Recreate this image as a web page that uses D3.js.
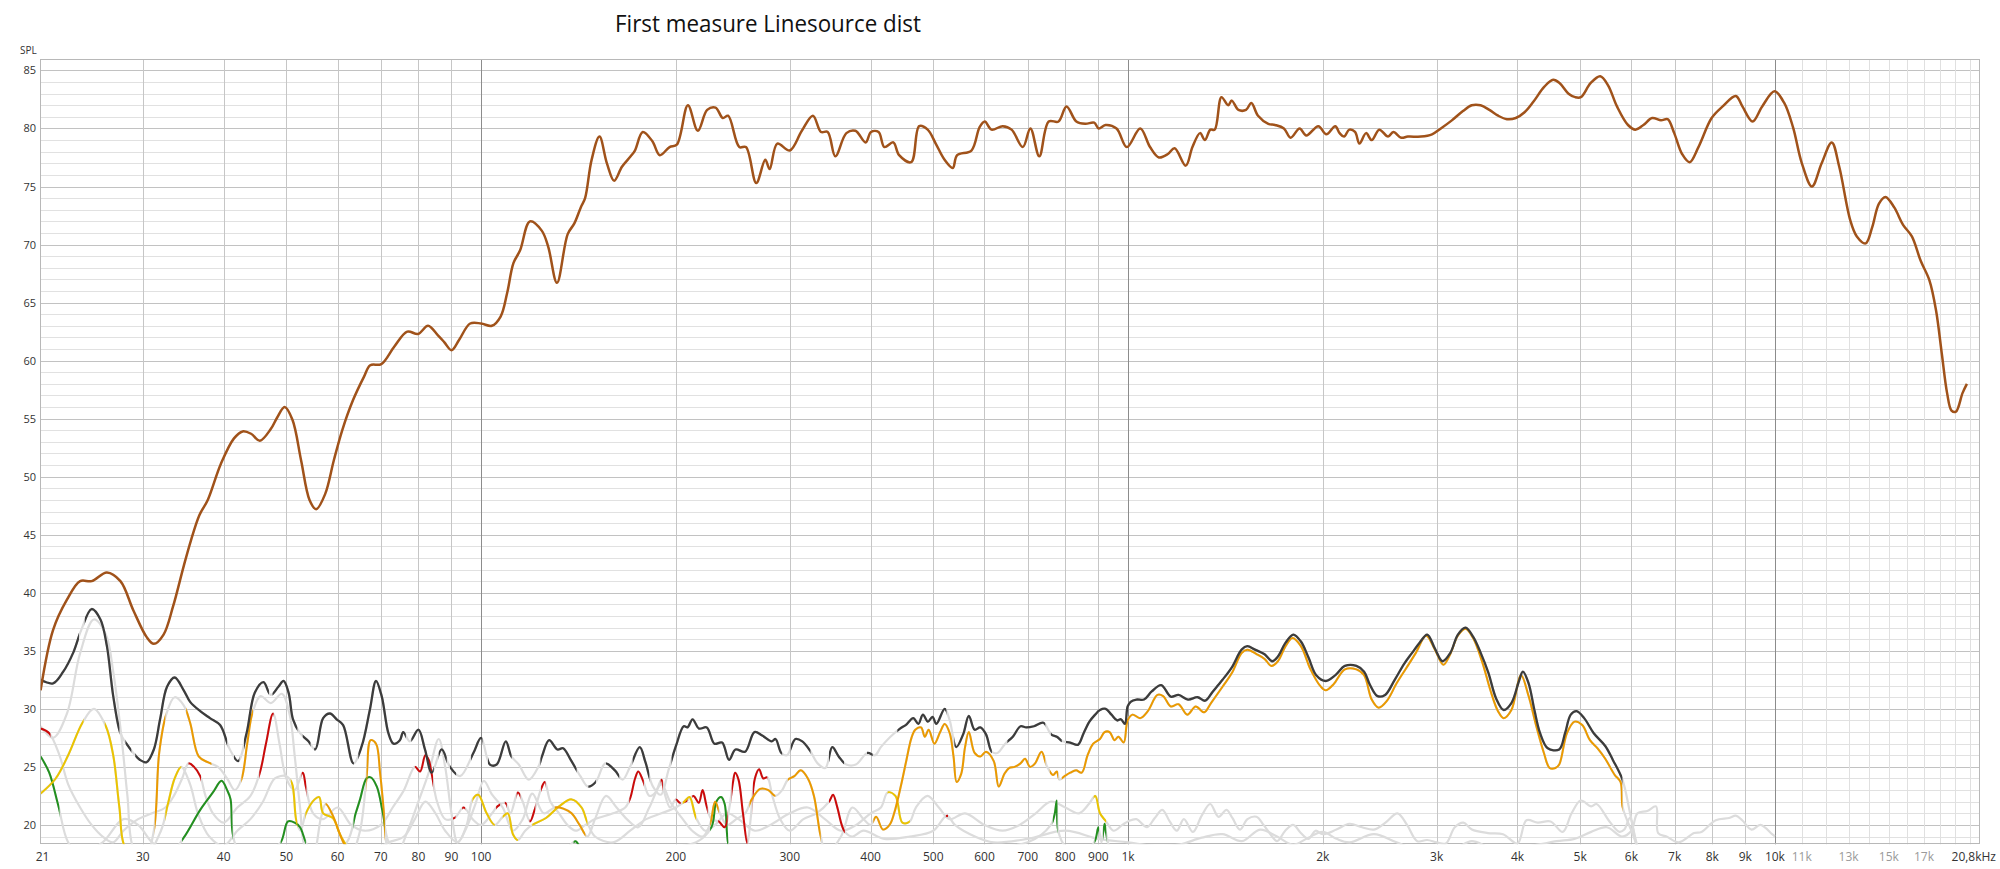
<!DOCTYPE html>
<html><head><meta charset="utf-8">
<script src="https://cdn.jsdelivr.net/npm/d3@7"></script>
<style>
body{margin:0;background:#fff;}
text{font-family:"Open Sans","Noto Sans",sans-serif;}
</style></head>
<body><svg id="chart" width="2000" height="869"></svg>
<script>
// ---------------- data ----------------
const title = "First measure Linesource dist";
const yLabel = "SPL";
const yTicks = [20,25,30,35,40,45,50,55,60,65,70,75,80,85];
const xTickVals = [21,30,40,50,60,70,80,90,100,200,300,400,500,600,700,800,900,1000,2000,3000,4000,5000,6000,7000,8000,9000,10000,11000,13000,15000,17000];
const xTickLabels = ["21","30","40","50","60","70","80","90","100","200","300","400","500","600","700","800","900","1k","2k","3k","4k","5k","6k","7k","8k","9k","10k","11k","13k","15k","17k"];
const xEndLabel = "20,8kHz";
const gridMinor = [30,40,50,60,70,80,90,200,300,400,500,600,700,800,900,2000,3000,4000,5000,6000,7000,8000,9000];
const gridDecade = [100,1000,10000];
const gridHigh = [11000,12000,13000,14000,15000,16000,17000,18000,19000,20000];

// fundamental [Hz, dB]
const fundamental = [[20.85,31.6],[21.8,36.8],[22.9,39.4],[24.0,41.0],[25.0,41.0],[26.4,41.75],[27.7,41.0],[29.0,38.5],[30.4,36.2],[31.2,35.6],[32.3,36.4],[33.4,38.8],[34.7,42.3],[35.6,44.5],[36.7,46.7],[37.8,48.0],[39.6,51.1],[41.5,53.3],[42.8,53.9],[44.1,53.7],[45.5,53.1],[47.3,54.1],[48.4,55.1],[49.7,56.0],[51.1,54.9],[52.7,51.4],[54.3,48.0],[55.6,47.2],[57.4,48.5],[59.2,51.4],[61.0,54.0],[63.4,56.6],[65.9,58.6],[67.4,59.6],[70.1,59.7],[73.4,61.2],[76.9,62.5],[79.9,62.3],[82.8,63.0],[85.7,62.2],[87.7,61.6],[90.0,60.9],[92.5,61.8],[96.2,63.2],[100,63.2],[103.9,63.0],[107.2,63.8],[109.7,65.8],[112.2,68.4],[114.9,69.5],[119.0,72.0],[124.1,71.2],[127.0,69.8],[131.0,66.7],[136.1,70.9],[139.3,71.8],[142.6,73.2],[144.8,74.0],[148.2,77.3],[152.4,79.3],[156.5,77.0],[160.6,75.5],[165.1,76.7],[170.3,77.6],[172.9,78.1],[177.8,79.7],[184.0,78.9],[188.9,77.7],[195.6,78.4],[200.7,78.6],[208.8,82.0],[216.3,79.8],[223.6,81.6],[230.4,81.8],[236.4,80.9],[240.9,81.1],[250.7,78.4],[256.7,78.4],[266.3,75.3],[275.0,77.3],[279.3,76.5],[287.0,78.7],[300.0,78.1],[313.2,79.8],[325.8,81.1],[335.3,79.7],[343.4,79.7],[352.8,77.6],[367.0,79.6],[379.0,79.8],[393.0,78.8],[400.6,79.7],[411.6,79.7],[420.2,78.4],[433.7,78.8],[442.8,77.7],[462.2,77.1],[475.6,80.2],[490.2,79.9],[504.4,78.7],[520.6,77.3],[535.9,76.6],[544.4,77.7],[572.8,78.1],[589.5,80.1],[600.7,80.6],[615.2,79.9],[640.2,80.2],[660.8,79.9],[687.7,78.4],[706.5,80.0],[729.3,77.6],[754.1,80.6],[780.9,80.6],[803.4,81.9],[832.0,80.6],[859.0,80.4],[886.7,80.5],[901.0,80.0],[922.8,80.3],[960.0,80.0],[995.9,78.4],[1044.5,80.0],[1081.6,78.4],[1116.4,77.5],[1152.8,77.8],[1180.6,78.3],[1228.2,76.8],[1257.8,78.4],[1292.3,79.6],[1315.0,79.0],[1340.5,79.9],[1361.7,79.9],[1394.6,82.7],[1428.2,82.0],[1446.6,82.4],[1481.5,81.6],[1522.1,81.6],[1551.1,82.2],[1588.5,81.1],[1647.8,80.4],[1687.6,80.3],[1741.9,80.0],[1783.9,79.2],[1842.0,80.0],[1886.4,79.4],[1968.8,80.2],[2025.7,79.5],[2091.0,80.2],[2124.0,79.6],[2157.5,79.3],[2198.6,79.9],[2243.7,79.7],[2279.1,78.7],[2333.3,79.6],[2381.1,79.0],[2445.5,79.9],[2523.3,79.3],[2571.4,79.7],[2644.7,79.2],[2707.6,79.3],[2837.9,79.3],[2951.2,79.5],[3045.1,80.0],[3166.7,80.7],[3294.3,81.5],[3399.1,82.0],[3507.3,82.0],[3618.9,81.6],[3734.0,81.1],[3852.9,80.8],[3975.5,80.9],[4101.9,81.4],[4232.5,82.3],[4401.5,83.6],[4541.6,84.2],[4649.6,83.9],[4797.5,83.0],[4911.5,82.7],[5012.2,82.7],[5188.3,83.9],[5370,84.5],[5524,83.7],[5700,81.9],[5928,80.3],[6088,79.9],[6262,80.3],[6461,80.9],[6667,80.7],[6825,80.8],[6988,79.6],[7187,77.8],[7382,77.1],[7617,78.4],[7983,80.9],[8302,81.9],[8700,82.8],[8907,81.9],[9236,80.6],[9557,81.9],[9987,83.2],[10337,82.2],[10667,80.1],[11007,77.0],[11409,75.0],[11810,77.0],[12242,78.8],[12573,76.7],[13075,72.1],[13385,70.7],[13812,70.1],[14140,71.5],[14476,73.5],[14820,74.1],[15292,73.2],[15779,71.7],[16282,70.7],[16801,68.6],[17336,66.9],[17748,64.3],[18112,60.6],[18457,57.2],[18749,55.7],[19045,55.6],[19497,57.2],[19805,58.0]];

// THD [Hz, dB]
const thd = [[20.85,32.5],[21.8,32.2],[22.6,33.2],[23.4,34.8],[24.1,36.8],[25.0,38.6],[25.8,37.7],[26.4,35.4],[27.0,31.1],[27.7,27.9],[28.3,27.0],[29.0,26.2],[29.7,25.6],[30.4,25.4],[31.2,26.5],[31.9,29.1],[32.7,31.9],[33.6,32.7],[34.7,31.6],[35.5,30.6],[36.8,29.8],[38.1,29.2],[39.5,28.6],[40.9,26.5],[42.1,25.5],[43.4,27.9],[44.7,31.4],[46.1,32.3],[47.3,31.2],[48.6,31.9],[49.5,32.4],[50.4,31.4],[51.2,29.1],[52.5,27.9],[54.1,27.2],[55.4,26.5],[57.0,29.2],[58.4,29.6],[59.8,29.1],[61.2,28.6],[63.5,25.3],[65.4,26.8],[67.3,29.9],[68.8,32.4],[70.2,31.1],[71.9,27.9],[73.2,27.0],[74.9,27.3],[75.8,28.0],[77.6,27.2],[80.0,28.2],[81.9,26.5],[83.9,24.5],[86.9,26.5],[89.5,25.0],[92.8,24.2],[97.3,26.2],[100,27.5],[103.2,25.2],[105.7,25.2],[109.2,27.2],[111.4,25.9],[114.4,25.2],[118.5,23.9],[122.6,25.0],[124.2,25.9],[127.4,27.3],[131.2,26.5],[133.9,26.6],[137.6,25.6],[142.4,24.2],[146.3,23.3],[150.4,23.7],[155.6,25.3],[161,24.7],[165.5,23.9],[169.9,25.0],[175.9,26.7],[179.5,25.4],[184.4,23.3],[189.6,22.6],[194.8,24.7],[200.1,26.8],[205.7,28.5],[208.5,28.4],[212.3,29.1],[217.2,28.3],[223.3,28.4],[229.4,27.0],[235.8,27.1],[241.7,25.6],[247.3,26.5],[255.9,26.3],[264.6,28.0],[272,27.7],[281.3,27.2],[285.2,27.4],[291.2,26.2],[297.1,26.0],[306.1,27.4],[313.7,27.2],[322.5,26.4],[331.3,25.3],[340.5,24.9],[349,26.7],[357.1,25.9],[366.9,25.2],[379.6,25.2],[395.5,26.2],[406.4,26.0],[414.9,26.7],[429.3,27.6],[444.2,28.3],[453.3,28.6],[465.7,29.2],[474.1,28.7],[481.9,29.5],[490.6,28.9],[498.7,29.3],[505.5,28.7],[520.8,30.0],[530.2,29.0],[542.6,26.7],[556.1,27.8],[567.5,29.4],[579.3,28.2],[591.2,28.4],[603.3,27.8],[615.9,26.3],[628.5,26.2],[646,27.0],[663.7,27.6],[682.1,28.5],[696.1,28.4],[715.5,28.5],[740,28.8],[760.6,27.8],[776.2,27.6],[792.4,27.2],[814.1,27.1],[836.7,26.9],[853.9,27.9],[871.7,28.9],[889.6,29.5],[905,29.9],[923.7,30.0],[942.9,29.5],[962.2,29.0],[975.3,29.1],[989.1,28.7],[998.7,30.2],[1009.4,30.6],[1030.5,30.8],[1058.7,30.8],[1088.1,31.5],[1125.5,32.05],[1164.6,31.05],[1197,31.2],[1238,30.8],[1281.1,31.0],[1316.2,30.7],[1352.8,31.5],[1399.8,32.5],[1448,33.6],[1498.3,35.1],[1529,35.4],[1571.4,35.1],[1626.1,34.7],[1670.7,34.1],[1704.9,34.5],[1752.3,35.7],[1801.2,36.4],[1850.5,35.8],[1901.9,34.4],[1954.1,32.9],[2022,32.4],[2092.3,32.9],[2164.2,33.7],[2254.6,33.7],[2317.2,33.2],[2364.6,32.1],[2430.3,31.1],[2497,31.2],[2583.9,32.5],[2673.7,33.9],[2747,34.8],[2823.4,35.7],[2900.7,36.4],[2981.4,35.2],[3063.1,34.1],[3148.2,34.8],[3235.8,36.4],[3324.4,37.0],[3416.9,36.2],[3510.5,34.8],[3606.8,33.1],[3707,30.9],[3808.6,29.9],[3914.4,30.5],[4021.7,32.4],[4078,33.2],[4161.5,32.2],[4248.3,29.9],[4335.4,27.9],[4455.9,26.6],[4640.3,26.5],[4738.1,27.9],[4835.2,29.5],[4936.1,29.8],[5071.4,29.2],[5247.7,27.9],[5466.8,26.8],[5616.8,25.6],[5812,23.9],[5972,21.0],[6101,18.6],[6230,17.0]];
const thdShown = [[20.85,23.9],[24.4,27.6],[28.2,28.8],[29.2,40.5],[41.5,42.3],[43.0,47.0],[47.6,52.0],[53.0,54.5],[55.2,63.6],[64.6,76.5],[78.0,84.5],[86.0,88.5],[89.5,91.5],[96.5,100.5],[102.5,111.5],[123.5,140.5],[146.5,150.5],[156,163.5],[171.5,182],[197,292],[301,323],[345,364],[395,403],[440,524],[539,616],[651,745],[760,790],[802,5812]];

// 2nd harmonic
const h2 = [[20.85,28.5],[21.8,27.5],[22.9,29.6],[24,34.8],[25.2,37.7],[26.3,36.4],[27,33.2],[27.8,27.6],[28.4,22.5],[29,18.0],[30.2,17.0],[31.2,19.5],[31.8,26.2],[32.6,29.5],[33.6,31.0],[34.7,30.3],[35.5,28.8],[36.6,25.9],[37.8,25.4],[39.2,25.0],[40.5,24.0],[41.6,23.0],[42.6,23.9],[43.5,27.0],[44.3,29.6],[45.6,31.1],[47.3,30.5],[49.2,31.3],[50.6,29.5],[51.5,26.0],[52.5,21.5],[53.5,18.0],[55,17.5],[56.5,20.5],[57.5,21.8],[59,20.8],[60.5,19.2],[61.5,18.3],[63,17.5],[65,19.5],[66.5,24.0],[67.5,27.3],[68.8,27.0],[69.8,24.5],[70.8,21.0],[71.8,18.0],[74,17.5],[77,19.5],[80,22.0],[83,24.5],[86,27.4],[88,25.0],[90,21.0],[92,18.5],[95,19.8],[98,21.8],[101,23.8],[104,22.6],[108,21.5],[112,19.5],[116,20.5],[120,22.7],[125,21.0],[130,21.5],[134,21.4],[138,21.0],[142,20.0],[146,19.0],[150,20.5],[156,22.5],[162,21.5],[168,20.5],[175,19.8],[182,21.5],[190,23.5],[196,22.0],[205,20.5],[212,19.5],[220,19.0],[226,20.1],[230,22.0],[234,21.0],[240,20.0],[248,20.5],[256,21.0],[262,22.2],[270,23.1],[278,23.0],[285,22.5],[292,23.0],[298,23.9],[305,24.2],[312,24.7],[320,24.0],[327,22.5],[335,19.0],[342,17.5],[360,19.0],[375,21.5],[390,20.5],[400,20.0],[408,20.7],[418,19.6],[428,20.0],[435,21.0],[447,23.7],[454.5,25.6],[462.7,27.5],[469,28.2],[478.7,28.4],[485.2,27.6],[491.9,28.2],[502.1,27.0],[512.4,28.0],[520.8,28.7],[530.2,27.9],[537.4,25.9],[543.4,23.7],[552.3,24.4],[559.9,26.7],[567.5,28.0],[579.3,26.2],[591.2,25.9],[603.3,26.3],[620.1,25.5],[631.2,23.3],[644.2,24.4],[654.8,24.9],[668.2,25.0],[682.1,25.3],[693.1,25.7],[705.6,25.0],[718.3,25.3],[735.1,26.3],[750.1,25.0],[765.8,24.3],[776.2,24.6],[783.7,23.9],[797.8,24.2],[814.1,24.5],[831.1,24.7],[848.2,24.5],[865.9,26.0],[883.6,27.0],[905,27.4],[920.1,28.0],[936.6,28.0],[953.1,27.3],[966.4,27.6],[984.9,27.1],[998.7,29.0],[1016.3,29.5],[1044.5,29.2],[1073.1,29.8],[1110.4,31.2],[1133.2,31.1],[1164.6,30.2],[1197,30.4],[1235,29.5],[1272.5,30.2],[1311.1,29.7],[1343.7,30.5],[1399.8,31.9],[1448,33.1],[1498.3,34.8],[1529,35.1],[1582.1,34.7],[1626.1,34.3],[1665.9,33.7],[1704.9,34.1],[1752.3,35.4],[1796,36.1],[1850.5,35.4],[1914.8,33.4],[1980.6,32.0],[2022,31.6],[2077.4,32.1],[2164.2,33.4],[2254.6,33.4],[2317.2,32.9],[2380.7,30.8],[2439.9,30.1],[2514,30.7],[2601.4,32.2],[2691.8,33.5],[2784.4,34.8],[2889.4,36.3],[2981.4,35.1],[3071.8,33.8],[3148.2,34.7],[3234.6,36.3],[3324.4,36.9],[3415.6,36.1],[3534.3,33.9],[3632.5,31.6],[3732.1,29.8],[3808.6,29.2],[3914.4,29.9],[4050.4,32.9],[4161.5,31.1],[4277.2,28.5],[4394.4,26.2],[4486.1,24.9],[4578,24.9],[4640.3,25.2],[4770.3,27.9],[4900.8,28.9],[5037,28.6],[5176.9,27.3],[5319,26.6],[5466.8,25.7],[5654.9,24.3],[5772.8,23.7],[5812,21.6],[5900,20.5],[6000,19.5],[6100,18.4],[6200,17.2]];
const h2Shown = [[31.3,32.5],[35,38.3],[42.6,44.4],[57.5,62],[66.5,71],[130,145],[226,233],[260,285],[298,335],[404,745],[757,780],[790,5812]];

// 3rd harmonic
const h3 = [[20.85,22.7],[22,24.0],[23,26.0],[24.2,28.8],[25.2,30.0],[26.3,28.5],[27,26.0],[27.6,21.5],[28.2,18.0],[30,17],[32,19.5],[32.8,21.8],[33.6,24.0],[34.4,25.0],[35.5,23.5],[36.5,21.0],[38,19.0],[40,18.2],[42,19.5],[44,20.5],[46,22.0],[48,24.0],[50,24.2],[51,23.6],[51.8,20.4],[52.6,19.5],[53.6,21.0],[55.3,22.2],[56.2,22.4],[57,21.0],[59,20.6],[60.5,19.2],[62,18.2],[64,17.5],[68,17.8],[72,18.5],[76,19.0],[79,20.5],[82,22.0],[85,21.0],[88,19.5],[92,18.5],[95,20.0],[97,22.2],[99,22.6],[102,21.0],[105,20.0],[108,20.7],[110,21.0],[112,19.2],[114,18.7],[117,19.5],[120,20.0],[126,20.6],[132,21.6],[138,22.2],[143,21.5],[146,20.2],[150,19.0],[160,18.5],[170,19.5],[180,20.5],[190,21.0],[200,21.5],[206,22.0],[210,22.4],[215,20.6],[222,19.5],[230,20.0],[240,21.0],[250,20.5],[265,19.5],[280,20.0],[300,21.0],[320,21.5],[340,20.5],[360,19.5],[380,20.0],[400,21.0],[415,21.5],[425,22.8],[437,22.5],[448,20.2],[460,20.3],[470,21.5],[490,22.5],[510,21.5],[530,20.5],[560,21.0],[600,20.0],[640,19.5],[680,20.0],[720,21.0],[760,22.0],[800,21.5],[840,21.0],[870,21.8],[890,22.5],[905,21.0],[925,20.3],[950,19.5],[980,20.0],[1000,20.3],[1030,20.5],[1070,19.8],[1100,20.6],[1130,21.3],[1160,20.3],[1190,19.5],[1220,20.5],[1260,19.4],[1300,20.8],[1340,21.8],[1380,20.7],[1420,21.3],[1450,20.6],[1490,19.6],[1530,20.5],[1580,20.7],[1620,20.0],[1660,19.2],[1700,18.6],[1750,19.5],[1800,20.0],[1850,19.3],[1900,18.8],[1950,19.5],[2000,19.2],[2100,19.6],[2200,20.1],[2300,19.8],[2400,19.6],[2500,20.2],[2610,21.0],[2700,20.0],[2800,18.6],[2900,18.7],[3000,18.5],[3100,18.4],[3200,19.8],[3300,20.2],[3400,19.6],[3600,19.3],[3800,19.2],[4000,18.4],[4130,20.4],[4300,20.2],[4500,20.3],[4700,19.4],[4850,21.0],[5010,22.1],[5200,21.6],[5300,21.8],[5550,20.3],[5750,19.4],[5850,19.6],[5970,20.6],[6100,18.4],[6200,17.4]];
const h3Shown = [[20.85,24.3],[26.2,28.2],[32.5,34.4],[50.8,52],[53.5,62],[97,105],[108,114],[120,146],[205,215],[425,460],[885,925]];

// 4th harmonic
const h4 = [[20.85,28.3],[21.5,27.9],[22.3,26.0],[23,23.5],[24,21.5],[25,20.0],[26,19.0],[27,18.5],[28,19.5],[29.5,20.5],[31,21.0],[32.5,21.5],[33.5,22.5],[34.5,24.0],[35.3,25.3],[36,25.0],[36.8,24.2],[37.5,22.5],[38.5,21.0],[40,20.2],[42,21.5],[44,22.5],[45.5,24.5],[46.5,27.0],[47.7,29.6],[48.8,27.0],[50,24.0],[51.5,23.0],[53,24.5],[53.6,23.3],[55,21.0],[57,20.5],[60,21.5],[63,20.0],[66,19.5],[70,20.0],[73,21.5],[76,23.0],[79,25.0],[80.5,24.6],[82,26.0],[83,25.6],[84,24.2],[85.5,22.0],[88,20.5],[91,20.6],[94,21.5],[97,20.5],[100,20.0],[104,21.0],[106,21.6],[109,21.9],[111,21.0],[114,22.8],[116,22.0],[119,20.3],[121,21.3],[124,23.2],[125.5,23.7],[128,22.0],[132,21.0],[136,20.0],[140,19.5],[145,20.0],[150,20.5],[160,21.0],[167,21.5],[170,22.3],[173,24.0],[175,24.6],[178,23.8],[182,22.5],[186,22.8],[190,23.9],[192,22.8],[196,21.5],[200,22.2],[203,21.9],[207,22.0],[213,22.5],[217,21.9],[220,23.0],[223,21.7],[227,20.5],[233,20.3],[238,19.8],[242,21.5],[245,23.6],[247,24.5],[250,23.9],[254,21.0],[258,18.4],[261,20.5],[265,24.0],[269,24.8],[273,24.0],[277,24.1],[282,22.5],[290,20.5],[300,19.5],[315,20.5],[330,21.0],[345,22.0],[350,22.6],[355,21.6],[361,20.0],[365,19.4],[375,19.0],[390,19.5],[420,18.8],[460,19.0],[500,19.5],[525,20.8],[540,20.0],[580,19.0],[620,18.5],[700,18.8],[800,19.5],[900,18.8],[1000,18.5],[1100,18.2],[1200,18.3],[1300,18.9],[1400,19.2],[1500,18.6],[1600,19.6],[1700,19.0],[1800,18.3],[1900,18.9],[2000,19.4],[2100,18.8],[2200,18.5],[2400,19.2],[2600,18.5],[2800,17.9],[3000,18.1],[3200,18.0],[3400,18.6],[3600,18.1],[3800,17.8],[4000,18.0],[4300,18.3],[4600,18.6],[4900,18.8],[5200,19.4],[5500,19.8],[5800,19.0],[6000,19.5],[6130,21.0],[6350,21.2],[6550,21.6],[6600,19.3],[6800,19.0],[7100,18.5],[7500,19.3],[7700,19.4],[8100,20.4],[8500,20.6],[8700,20.8],[8900,20.4],[9200,19.6],[9500,20.0],[9900,19.2],[10000,19.0]];
const h4Shown = [[20.85,21.6],[35.3,36.9],[45.4,47.8],[52.8,53.7],[79,84.3],[90.5,91.3],[93.5,94.5],[105.5,107],[108.8,109.6],[113.5,115],[118.8,121.3],[123.8,125.8],[169.5,178.5],[189.5,191],[200,203.5],[206,208.5],[212,224],[232.5,240.5],[244,258],[263,277],[345,365],[523,527]];

// 5th harmonic
const h5 = [[20.85,25.9],[21.5,24.5],[22.2,21.7],[23,18.5],[24,17.5],[26,18.5],[28,20.5],[29.5,20.0],[31,18.5],[33,17.5],[34.7,18.9],[36.8,21.3],[38.5,22.8],[39.7,23.8],[40.5,23.0],[41,22.2],[41.3,19.3],[42,18],[44,17.5],[47,17.8],[49,18.5],[50.3,20.3],[51.5,20.2],[52.5,19.8],[53.6,18.5],[55,17.5],[58,17.5],[62,18.5],[64,21.0],[65,22.2],[66.5,24.0],[67.5,24.1],[69,23.3],[70.5,21.0],[72,18.5],[75,17.5],[85,17.5],[95,17.8],[110,18.0],[125,18.2],[135,18.0],[140,18.6],[142,18.2],[160,17.8],[190,18.0],[215,18.5],[227,19.8],[231,22.0],[235,22.4],[238,21.8],[241,18.4],[245,17.5],[300,17.5],[400,17.8],[500,18.0],[700,18.5],[760,20.0],[770,20.9],[776,22.1],[780,19.5],[800,18.2],[870,18.0],[890,18.7],[900,19.8],[910,18.5],[920,20.1],[925,19.3],[940,18.0],[1000,17.5]];
const h5Shown = [[20.85,22.3],[34.5,41.3],[49,53.6],[63.5,71],[139,142],[226,241],[765,778],[888,902],[915,926]];

// ---------------- chart ----------------
const svg = d3.select("#chart");
const P = {l:40.6, r:1980, t:60, b:844.3};
const x = d3.scaleLog().domain([20.85, 20750]).range([P.l, P.r]);
const y = d3.scaleLinear().domain([18.33, 85.9]).range([P.b, P.t]);
const snap = v => Math.round(v) + 0.5;

const defs = svg.append("defs");
defs.append("clipPath").attr("id","plotClip").append("rect")
  .attr("x",P.l).attr("y",P.t).attr("width",P.r-P.l).attr("height",P.b-P.t);

const grid = svg.append("g");
d3.range(19, 86).forEach(v => {
  grid.append("line").attr("x1",P.l).attr("x2",P.r).attr("y1",snap(y(v))).attr("y2",snap(y(v)))
    .attr("stroke", v % 5 === 0 ? "#c2c2c2" : "#e1e1e1").attr("stroke-width",1);
});
gridMinor.forEach(f => grid.append("line").attr("x1",snap(x(f))).attr("x2",snap(x(f))).attr("y1",P.t).attr("y2",P.b).attr("stroke","#c6c6c6"));
gridHigh.forEach(f => grid.append("line").attr("x1",snap(x(f))).attr("x2",snap(x(f))).attr("y1",P.t).attr("y2",P.b).attr("stroke","#e0e0e0"));
gridDecade.forEach(f => grid.append("line").attr("x1",snap(x(f))).attr("x2",snap(x(f))).attr("y1",P.t).attr("y2",P.b).attr("stroke","#8c8c8c"));
svg.append("rect").attr("x",snap(P.l)-1).attr("y",snap(P.t)-1).attr("width",Math.round(P.r-P.l)).attr("height",Math.round(P.b-P.t))
  .attr("fill","none").attr("stroke","#b8b8b8");

// labels
svg.append("text").attr("x",615).attr("y",32).attr("font-size",24).attr("fill","#111")
  .attr("textLength",306).attr("lengthAdjust","spacingAndGlyphs").text(title);
svg.append("text").attr("x",20).attr("y",54).attr("font-size",10).attr("fill","#333").text(yLabel);
yTicks.forEach(v => svg.append("text").attr("x",36).attr("y",y(v)+4).attr("text-anchor","end")
  .attr("font-size",11).attr("fill","#333").text(v));
xTickVals.forEach((f,i) => svg.append("text").attr("x",x(f)).attr("y",861).attr("text-anchor","middle")
  .attr("font-size",12).attr("fill", f > 10000 ? "#9a9a9a" : "#333").text(xTickLabels[i]));
svg.append("text").attr("x",1996).attr("y",861).attr("text-anchor","end").attr("font-size",12).attr("fill","#333").text(xEndLabel);

// curves
const line = d3.line().x(d => x(d[0])).y(d => y(d[1])).curve(d3.curveCatmullRom.alpha(0.5));
const plotG = svg.append("g").attr("clip-path","url(#plotClip)");

const series = [
  {id:"h5", data:h5, shown:h5Shown, color:"#22901f", w:2},
  {id:"h4", data:h4, shown:h4Shown, color:"#cc0a0a", w:2},
  {id:"h3", data:h3, shown:h3Shown, color:"#ebc400", w:2},
  {id:"h2", data:h2, shown:h2Shown, color:"#eb9a00", w:2},
  {id:"thd", data:thd, shown:thdShown, color:"#3c3c3c", w:2.3}
];
series.forEach(s => plotG.append("path").attr("d", line(s.data)).attr("fill","none")
  .attr("stroke","#dcdcdc").attr("stroke-width",2.2));
series.forEach(s => {
  const cp = defs.append("clipPath").attr("id","clip_"+s.id);
  s.shown.forEach(r => cp.append("rect").attr("x",x(r[0])).attr("y",P.t)
    .attr("width",Math.max(0.5, x(r[1])-x(r[0]))).attr("height",P.b-P.t));
  plotG.append("g").attr("clip-path","url(#clip_"+s.id+")").append("path")
    .attr("d", line(s.data)).attr("fill","none").attr("stroke",s.color).attr("stroke-width",s.w)
    .attr("stroke-linejoin","round");
});
plotG.append("path").attr("d", line(fundamental)).attr("fill","none")
  .attr("stroke","#a0521a").attr("stroke-width",2.5).attr("stroke-linejoin","round");
</script></body></html>
